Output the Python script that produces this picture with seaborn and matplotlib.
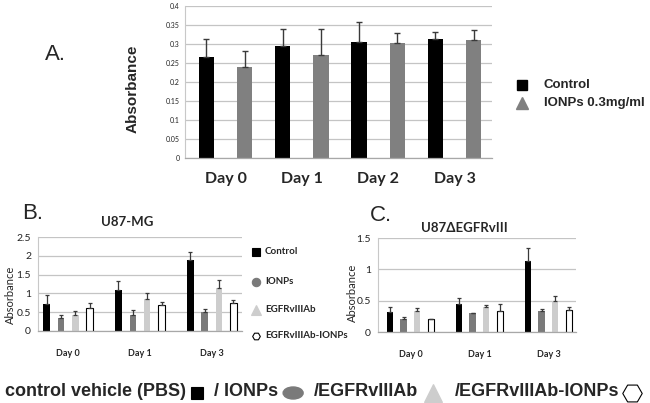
import numpy as np
import pandas as pd
import matplotlib
matplotlib.use("Agg")
import matplotlib.pyplot as plt
import seaborn as sns
from matplotlib.lines import Line2D
from matplotlib.patches import Ellipse

# ---------------- data ----------------
days_a = ["Day 0", "Day 1", "Day 2", "Day 3"]
groups_a = ["Control", "IONPs 0.3mg/ml"]
a_control = [0.266, 0.296, 0.306, 0.313]
a_ionps = [0.240, 0.272, 0.303, 0.312]
a_control_err = [0.047, 0.044, 0.052, 0.019]
a_ionps_err = [0.043, 0.067, 0.027, 0.025]
a_yticks = [0, 0.05, 0.1, 0.15, 0.2, 0.25, 0.3, 0.35, 0.4]
a_yticklabels = ["0", "0.05", "0.1", "0.15", "0.2", "0.25", "0.3", "0.35", "0.4"]

days_bc = ["Day 0", "Day 1", "Day 3"]
groups_bc = ["Control", "IONPs", "EGFRvIIIAb", "EGFRvIIIAb-IONPs"]

b_control = [0.73, 1.10, 1.90]
b_ionps = [0.35, 0.42, 0.51]
b_egfr = [0.42, 0.86, 1.15]
b_egfr_ionps = [0.60, 0.68, 0.75]
b_control_err = [0.22, 0.23, 0.20]
b_ionps_err = [0.07, 0.15, 0.07]
b_egfr_err = [0.11, 0.15, 0.22]
b_egfr_ionps_err = [0.15, 0.08, 0.07]
b_yticks = [0, 0.5, 1, 1.5, 2, 2.5]
b_yticklabels = ["0", "0.5", "1", "1.5", "2", "2.5"]

c_control = [0.32, 0.45, 1.13]
c_ionps = [0.20, 0.30, 0.34]
c_egfr = [0.34, 0.40, 0.49]
c_egfr_ionps = [0.20, 0.33, 0.355]
c_control_err = [0.08, 0.10, 0.21]
c_ionps_err = [0.04, 0.005, 0.02]
c_egfr_err = [0.04, 0.03, 0.085]
c_egfr_ionps_err = [0.01, 0.12, 0.045]
c_yticks = [0, 0.5, 1, 1.5]
c_yticklabels = ["0", "0.5", "1", "1.5"]

bottom_texts = ["control vehicle (PBS)", "/ IONPs", "/EGFRvIIIAb", "/EGFRvIIIAb-IONPs"]

# ---------------- style ----------------
sns.set_style("white")
plt.rcParams["font.family"] = ["Lato", "DejaVu Sans"]

W, H = 650, 403
fig = plt.figure(figsize=(6.5, 4.03), dpi=100)

col_ctrl = "#000000"
col_ionp_a = "#808080"
col_ionp = "#7a7a7a"
col_egfr = "#cdcdcd"
col_ie = "#ffffff"
grid_col = "#c4c4c4"
err_col = "#3a3a3a"


def px_axes(left, right, top, bottom):
    return fig.add_axes([left / W, 1 - bottom / H, (right - left) / W, (bottom - top) / H])


def fx(x):
    return x / W


def fy(y):
    return 1 - y / H


def draw_bars(ax, days, groups, values, errs, colors, width, gap, elw, cap):
    rows = []
    for g, vals in zip(groups, values):
        for d, v in zip(days, vals):
            rows.append({"day": d, "group": g, "value": v})
    df = pd.DataFrame(rows)
    sns.barplot(data=df, x="day", y="value", hue="group", order=days,
                hue_order=groups, palette=dict(zip(groups, colors)),
                width=width, gap=gap, errorbar=None, legend=False,
                saturation=1, linewidth=0, ax=ax)
    for cont, err in zip(ax.containers, errs):
        xs = [p.get_x() + p.get_width() / 2 for p in cont]
        ys = [p.get_height() for p in cont]
        ax.errorbar(xs, ys, yerr=[np.zeros(len(err)), err], fmt="none",
                    ecolor=err_col, elinewidth=elw, capsize=cap,
                    capthick=elw, zorder=3)
    return ax.containers


def style_axes(ax, xlim, ylim, yticks, yticklabels, ytick_fs, xtick_fs, xpad, ypad):
    ax.set_xlim(*xlim)
    ax.set_ylim(*ylim)
    ax.set_yticks(yticks)
    ax.set_yticklabels(yticklabels)
    ax.yaxis.grid(True, color=grid_col, lw=0.9)
    ax.xaxis.grid(False)
    ax.set_axisbelow(True)
    for s in ["top", "right"]:
        ax.spines[s].set_visible(False)
    ax.spines["left"].set_color("#c8c8c8")
    ax.spines["left"].set_linewidth(0.8)
    ax.spines["bottom"].set_color("#a8a8a8")
    ax.spines["bottom"].set_linewidth(0.9)
    ax.set_xlabel("")
    ax.set_ylabel("")
    ax.tick_params(axis="x", length=0, pad=xpad, labelsize=xtick_fs)
    ax.tick_params(axis="y", length=0, pad=ypad, labelsize=ytick_fs, labelcolor="#222222")
    for t in ax.get_xticklabels():
        t.set_fontweight("bold")
    ax.patch.set_alpha(0)


# ---------------- panel A ----------------
axA = px_axes(185, 492, 6, 158)
draw_bars(axA, days_a, groups_a, [a_control, a_ionps], [a_control_err, a_ionps_err],
          [col_ctrl, col_ionp_a], width=1.0, gap=0.6, elw=1.0, cap=2)
style_axes(axA, (-0.53, 3.49), (0, 0.4005), a_yticks, a_yticklabels, 5, 11.5, 10, 4)

fig.text(fx(45), fy(55), "A.", fontsize=16, family="Liberation Sans", va="center", ha="left")
fig.text(fx(133), fy(88.5), "Absorbance", fontsize=11, fontweight="bold",
         family="Liberation Sans", rotation=90, va="center", ha="center")
# legend A
fig.add_artist(Line2D([fx(522)], [fy(85)], marker="s", markersize=7, color=col_ctrl,
                      lw=0, transform=fig.transFigure))
fig.add_artist(Line2D([fx(522)], [fy(103)], marker="^", markersize=8, color=col_ionp_a,
                      lw=0, transform=fig.transFigure))
fig.text(fx(544), fy(85), groups_a[0], fontsize=9.5, fontweight="bold",
         family="Liberation Sans", va="center")
fig.text(fx(544), fy(103), groups_a[1], fontsize=9.5, fontweight="bold",
         family="Liberation Sans", va="center")

# ---------------- panel B ----------------
colors_bc = [col_ctrl, col_ionp, col_egfr, col_ie]
axB = px_axes(38, 242, 237, 331)
contB = draw_bars(axB, days_bc, groups_bc, [b_control, b_ionps, b_egfr, b_egfr_ionps],
                  [b_control_err, b_ionps_err, b_egfr_err, b_egfr_ionps_err],
                  colors_bc, width=0.8, gap=0.55, elw=0.9, cap=1.5)
for p in contB[3]:
    p.set_edgecolor("black")
    p.set_linewidth(0.8)
style_axes(axB, (-0.42, 2.42), (0, 2.505), b_yticks, b_yticklabels, 7.5, 6.5, 13, 5)

fig.text(fx(22), fy(213.5), "B.", fontsize=16, family="Liberation Sans", va="center", ha="left")
fig.text(fx(127.5), fy(222), "U87-MG", fontsize=9.5, fontweight="bold", va="center", ha="center")
fig.text(fx(10), fy(295), "Absorbance", fontsize=8, rotation=90, va="center", ha="center")

leg_y = [252, 282, 310, 336]
leg_markers = ["s", "o", "^", "H"]
leg_sizes = [5.5, 6, 6.5, 5.5]
for g, c, m, ms, y in zip(groups_bc, colors_bc, leg_markers, leg_sizes, leg_y):
    fig.add_artist(Line2D([fx(256)], [fy(y)], marker=m, markersize=ms, markerfacecolor=c,
                          markeredgecolor=("black" if c == col_ie else c),
                          markeredgewidth=0.8, lw=0, transform=fig.transFigure))
    fig.text(fx(265), fy(y), g, fontsize=7, fontweight="bold", va="center", ha="left")

# ---------------- panel C ----------------
axC = px_axes(378, 576, 238, 332)
contC = draw_bars(axC, days_bc, groups_bc, [c_control, c_ionps, c_egfr, c_egfr_ionps],
                  [c_control_err, c_ionps_err, c_egfr_err, c_egfr_ionps_err],
                  colors_bc, width=0.8, gap=0.55, elw=0.9, cap=1.5)
for p in contC[3]:
    p.set_edgecolor("black")
    p.set_linewidth(0.8)
style_axes(axC, (-0.47, 2.4), (0, 1.503), c_yticks, c_yticklabels, 7.5, 6.5, 13, 5)

fig.text(fx(370), fy(215), "C.", fontsize=16, family="Liberation Sans", va="center", ha="left")
fig.text(fx(464), fy(228), "U87\u0394EGFRvIII", fontsize=9.5, fontweight="bold",
         va="center", ha="center")
fig.text(fx(352), fy(293), "Absorbance", fontsize=8, rotation=90, va="center", ha="center")

# ---------------- bottom legend ----------------
renderer = fig.canvas.get_renderer()
by = 392
x = 5
bottom_markers = [
    dict(kind="line", marker="s", size=9, face=col_ctrl, edge=col_ctrl, w=12),
    dict(kind="ellipse", face=col_ionp, edge=col_ionp, w=20, h=12),
    dict(kind="line", marker="^", size=13, face=col_egfr, edge=col_egfr, w=20),
    dict(kind="line", marker="H", size=14, face="white", edge="black", w=16),
]
for txt, mk in zip(bottom_texts, bottom_markers):
    t = fig.text(fx(x), fy(by), txt, fontsize=13, fontweight="bold",
                 family="Liberation Sans", va="center", ha="left")
    bb = t.get_window_extent(renderer=renderer)
    x_end = x + bb.width
    mx = x_end + 5 + mk["w"] / 2
    if mk["kind"] == "ellipse":
        fig.add_artist(Ellipse((fx(mx), fy(by + 1)), mk["w"] / W, mk["h"] / H,
                               facecolor=mk["face"], edgecolor=mk["edge"],
                               transform=fig.transFigure))
    else:
        fig.add_artist(Line2D([fx(mx)], [fy(by + 1)], marker=mk["marker"],
                              markersize=mk["size"], markerfacecolor=mk["face"],
                              markeredgecolor=mk["edge"], markeredgewidth=0.8,
                              lw=0, transform=fig.transFigure))
    x = mx + mk["w"] / 2 + 11

fig.savefig("out.png", dpi=100)
